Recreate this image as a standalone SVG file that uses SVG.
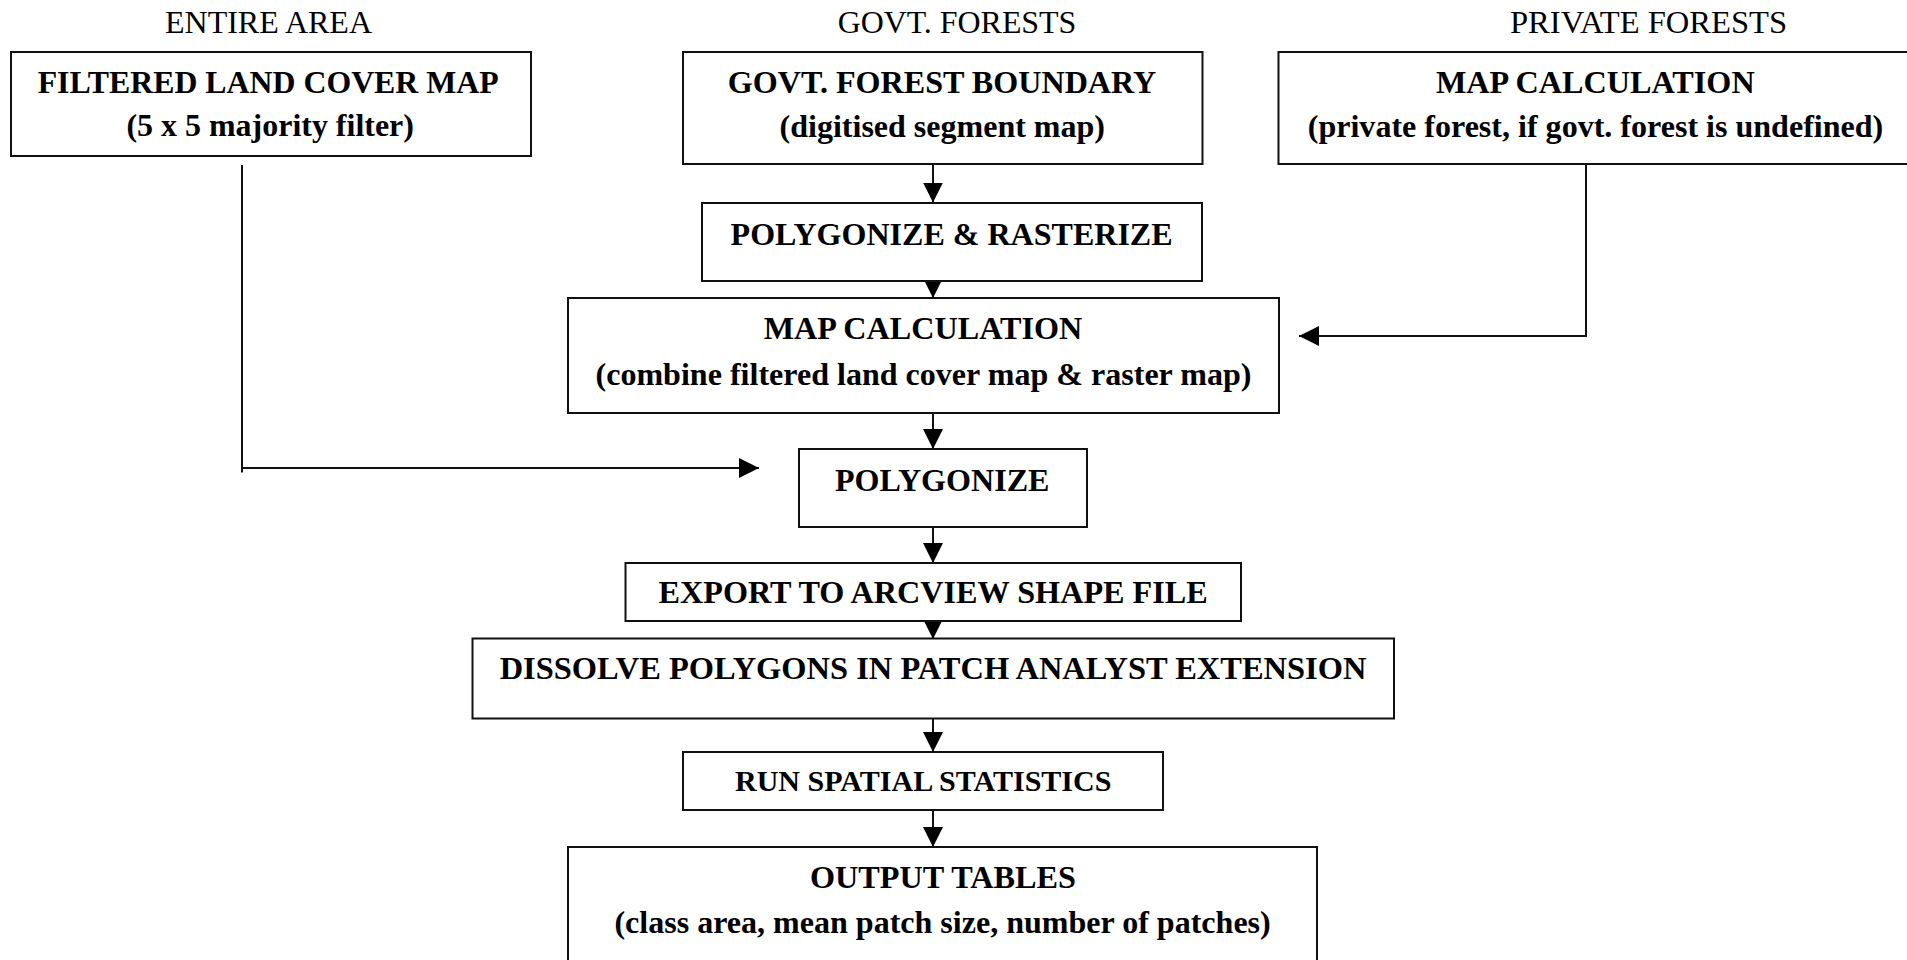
<svg xmlns="http://www.w3.org/2000/svg" width="1907" height="960" viewBox="0 0 1907 960">
<style>
.box{fill:#fff;stroke:#111;stroke-width:2}
.hdr{font-family:"Liberation Serif","Times New Roman",serif;font-size:31.7px;fill:#000;text-anchor:middle}
.t{font-family:"Liberation Serif","Times New Roman",serif;font-size:31.8px;font-weight:bold;fill:#000;text-anchor:middle}
.ts{font-size:29.2px}
.c{fill:none;stroke:#111;stroke-width:2}
</style>
<defs>
<marker id="ah" viewBox="0 0 20 20" refX="20" refY="10" markerWidth="20" markerHeight="20" markerUnits="userSpaceOnUse" orient="auto">
<path d="M0,0 L20,10 L0,20 z" fill="#000"/>
</marker>
</defs>
<rect width="1907" height="960" fill="#fff"/>
<g id="headers">
<text class="hdr" x="268.5" y="33" textLength="207" lengthAdjust="spacingAndGlyphs">ENTIRE AREA</text>
<text class="hdr" x="957" y="33" textLength="238.7" lengthAdjust="spacingAndGlyphs">GOVT. FORESTS</text>
<text class="hdr" x="1648.5" y="33" textLength="277" lengthAdjust="spacingAndGlyphs">PRIVATE FORESTS</text>
</g>
<g id="connectors">
<path class="c" d="M933,165 L933,202.5" marker-end="url(#ah)"/>
<path class="c" d="M933,281 L933,298" marker-end="url(#ah)"/>
<path class="c" d="M1586,164 L1586,336 L1299,336" marker-end="url(#ah)"/>
<path class="c" d="M242,165 L242,472.5"/>
<path class="c" d="M242,468 L759,468" marker-end="url(#ah)"/>
<path class="c" d="M933,413 L933,449" marker-end="url(#ah)"/>
<path class="c" d="M933,527 L933,563" marker-end="url(#ah)"/>
<path class="c" d="M933,621 L933,639" marker-end="url(#ah)"/>
<path class="c" d="M933,714 L933,752" marker-end="url(#ah)"/>
<path class="c" d="M933,810 L933,847" marker-end="url(#ah)"/>
</g>
<g id="filtered-land-cover">
<rect class="box" x="11" y="52" width="520" height="104"/>
<text class="t" x="268.2" y="93" textLength="461" lengthAdjust="spacingAndGlyphs">FILTERED LAND COVER MAP</text>
<text class="t" x="270.2" y="136" textLength="287.5" lengthAdjust="spacingAndGlyphs">(5 x 5 majority filter)</text>
</g>
<g id="govt-forest-boundary">
<rect class="box" x="683" y="52" width="519.5" height="112"/>
<text class="t" x="942" y="93" textLength="428.5" lengthAdjust="spacingAndGlyphs">GOVT. FOREST BOUNDARY</text>
<text class="t" x="942.3" y="137" textLength="325.4" lengthAdjust="spacingAndGlyphs">(digitised segment map)</text>
</g>
<g id="polygonize-rasterize">
<rect class="box" x="702" y="203" width="500" height="78"/>
<text class="t" x="951.6" y="245" textLength="442" lengthAdjust="spacingAndGlyphs">POLYGONIZE &amp; RASTERIZE</text>
</g>
<g id="private-map-calculation">
<rect class="box" x="1278.5" y="52" width="700" height="112"/>
<text class="t" x="1595.3" y="93" textLength="318.7" lengthAdjust="spacingAndGlyphs">MAP CALCULATION</text>
<text class="t" x="1595.5" y="137" textLength="575.5" lengthAdjust="spacingAndGlyphs">(private forest, if govt. forest is undefined)</text>
</g>
<g id="map-calculation">
<rect class="box" x="568" y="298" width="711" height="115"/>
<text class="t" x="923" y="339" textLength="318.7" lengthAdjust="spacingAndGlyphs">MAP CALCULATION</text>
<text class="t" x="923.5" y="385" textLength="656" lengthAdjust="spacingAndGlyphs">(combine filtered land cover map &amp; raster map)</text>
</g>
<g id="polygonize">
<rect class="box" x="799" y="449" width="288" height="78"/>
<text class="t" x="942.2" y="490.7" textLength="214.5" lengthAdjust="spacingAndGlyphs">POLYGONIZE</text>
</g>
<g id="export">
<rect class="box" x="625.5" y="563" width="615.5" height="58"/>
<text class="t" x="933.1" y="603.3" textLength="549.2" lengthAdjust="spacingAndGlyphs">EXPORT TO ARCVIEW SHAPE FILE</text>
</g>
<g id="dissolve">
<rect class="box" x="472.5" y="638.5" width="921.5" height="80"/>
<text class="t" x="933" y="679" textLength="866.7" lengthAdjust="spacingAndGlyphs">DISSOLVE POLYGONS IN PATCH ANALYST EXTENSION</text>
</g>
<g id="run-spatial-statistics">
<rect class="box" x="683" y="752" width="480" height="58"/>
<text class="t ts" x="923.2" y="790.7" textLength="376.4" lengthAdjust="spacingAndGlyphs">RUN SPATIAL STATISTICS</text>
</g>
<g id="output-tables">
<rect class="box" x="568" y="847" width="749" height="130"/>
<text class="t" x="943" y="888.3" textLength="266" lengthAdjust="spacingAndGlyphs">OUTPUT TABLES</text>
<text class="t" x="942.6" y="933.3" textLength="656.3" lengthAdjust="spacingAndGlyphs">(class area, mean patch size, number of patches)</text>
</g>
</svg>
